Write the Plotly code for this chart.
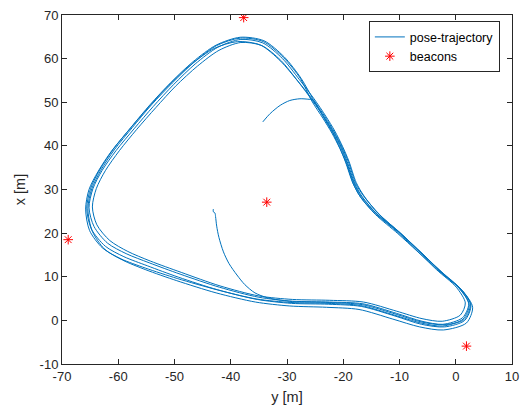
import plotly.graph_objects as go

# Horizontal axis carries the robot's y position, vertical axis its x position.

# Initial approach arc before the first lap
start_y = [-34.3, -33.0, -31.2, -29.5, -27.7, -26.3]
start_x = [45.5, 47.4, 49.3, 50.4, 50.8, 50.7]

# Complete laps (clockwise in the y-x plane)
lap1_y = [-25.4, -23.5, -21.9, -20.6, -19.6, -18.3, -17.0, -14.5, -10.6, -7.2, -3.4, 0.1, 1.7, 0.8, -2.4, -6.0, -10.5, -16.4, -22.4, -29.0,
          -35.0, -41.9, -48.8, -54.3, -58.3, -61.5, -63.8, -64.6,
          -63.9, -62.3, -59.8, -56.7, -53.3, -49.8, -45.9, -42.1, -38.2, -34.5, -31.1, -28.1]
lap1_x = [50.5, 46.5, 43.0, 39.5, 36.3, 31.5, 28.4, 24.7, 20.5, 16.4, 11.6, 7.6, 4.0, 1.2, -0.2, 0.4, 2.1, 4.2, 4.6, 4.8,
          5.6, 7.9, 11.0, 13.6, 15.8, 18.3, 21.9, 26.0,
          30.2, 34.3, 38.9, 43.8, 48.8, 53.7, 58.3, 61.9, 63.7, 63.0, 59.6, 54.9]

lap2_y = [-25.4, -23.4, -21.8, -20.4, -19.4, -18.1, -16.8, -14.2, -10.2, -6.8, -2.9, 0.6, 2.3, 1.2, -2.3, -6.0, -10.5, -16.5, -22.4, -29.0,
          -35.0, -42.0, -49.0, -54.5, -58.6, -61.9, -64.3, -65.2,
          -64.5, -62.9, -60.4, -57.2, -53.8, -50.2, -46.3, -42.3, -38.2, -34.3, -30.8, -27.8]
lap2_x = [50.5, 46.5, 43.0, 39.5, 36.3, 31.5, 28.4, 24.6, 20.3, 16.2, 11.4, 7.4, 3.8, 0.6, -0.9, -0.2, 1.6, 3.8, 4.2, 4.4,
          5.3, 7.6, 10.6, 13.2, 15.3, 17.7, 21.5, 25.8,
          30.2, 34.3, 38.9, 43.9, 49.0, 54.0, 58.8, 62.6, 64.4, 63.6, 60.0, 55.2]

lap3_y = [-25.2, -23.1, -21.5, -20.1, -19.0, -17.7, -16.3, -13.8, -9.8, -6.4, -2.4, 1.0, 2.7, 1.6, -2.0, -6.1, -10.8, -16.8, -22.6, -29.2,
          -35.3, -42.3, -49.3, -54.8, -59.0, -62.3, -64.8, -65.6,
          -64.9, -63.3, -60.9, -57.7, -54.3, -50.6, -46.7, -42.6, -38.3, -34.1, -30.5, -27.5]
lap3_x = [50.8, 46.8, 43.4, 39.8, 36.5, 31.6, 28.5, 24.5, 20.0, 15.8, 10.9, 7.0, 3.5, 0.0, -1.5, -0.9, 1.0, 3.2, 3.7, 3.9,
          4.8, 7.0, 9.9, 12.5, 14.6, 17.0, 21.0, 25.7,
          30.3, 34.5, 39.2, 44.3, 49.5, 54.6, 59.3, 63.1, 64.9, 64.1, 60.4, 55.5]

lap4_y = [-25.3, -23.2, -21.6, -20.2, -19.1, -17.8, -16.2, -13.5, -9.5, -6.0, -2.0, 1.4, 3.0, 1.9, -2.2, -6.4, -11.2, -17.2, -23.0, -29.5,
          -35.6, -42.6, -49.6, -55.1, -59.2, -62.4, -64.6, -65.4,
          -64.7, -63.1, -60.7, -57.5, -54.1, -50.4, -46.5, -42.5, -38.3, -34.2, -30.6, -27.6]
lap4_x = [50.6, 46.6, 43.2, 39.7, 36.4, 31.4, 28.2, 24.2, 19.6, 15.4, 10.4, 6.5, 3.0, -0.6, -2.2, -1.5, 0.3, 2.5, 3.0, 3.3,
          4.2, 6.3, 9.1, 11.6, 13.8, 16.3, 20.4, 25.6,
          30.2, 34.4, 39.1, 44.2, 49.4, 54.4, 59.2, 63.0, 64.7, 63.9, 60.2, 55.4]

lap5_y = [-25.6, -23.6, -22.0, -20.6, -19.5, -18.2, -16.9, -14.3, -10.3, -6.9, -2.8, 0.7, 2.4, 1.3, -2.3, -6.2, -10.9, -16.9, -22.7, -29.3,
          -35.4, -42.4, -49.5, -55.2, -59.5, -62.8, -65.1, -65.8,
          -65.2, -63.6, -61.2, -58.0, -54.6, -51.0, -47.1, -43.0, -38.8, -34.7, -31.2, -28.0]
lap5_x = [50.3, 46.3, 42.9, 39.4, 36.2, 31.3, 28.2, 24.3, 19.9, 15.9, 11.1, 7.2, 3.6, 0.3, -1.3, -0.6, 1.2, 3.4, 3.9, 4.1,
          4.9, 7.0, 9.6, 12.0, 14.1, 16.6, 20.6, 25.5,
          30.0, 34.1, 38.8, 43.8, 48.9, 53.9, 58.6, 62.3, 63.9, 63.1, 59.5, 54.7]

# Last partial lap down the right side and along the bottom
lap6_y = [-25.5, -23.3, -21.7, -20.3, -19.3, -18.0, -16.6, -14.0, -10.0, -6.6, -2.6, 0.9, 2.6, 1.5, -2.1, -6.0, -10.6, -16.6, -22.5, -29.0]
lap6_x = [50.4, 46.4, 43.1, 39.6, 36.4, 31.5, 28.3, 24.4, 20.1, 16.0, 11.2, 7.2, 3.7, 0.2, -1.0, -0.4, 1.4, 3.6, 4.1, 4.3]

# Exit branch to the final pose
end_y = [-31.0, -33.5, -35.7, -37.5, -38.9, -40.3, -41.3, -42.1, -42.5, -42.7, -42.8, -43.1, -43.1]
end_x = [4.6, 5.2, 6.3, 8.2, 10.4, 13.0, 15.7, 19.0, 21.6, 23.8, 24.6, 24.9, 25.5]

# Beacon positions
beacon_y = [-37.7, -33.6, -68.9, 1.9]
beacon_x = [69.4, 27.1, 18.5, -5.9]

# Tick labels
tick_y_vals = [-70, -60, -50, -40, -30, -20, -10, 0, 10]
tick_y_text = ["-70", "-60", "-50", "-40", "-30", "-20", "-10", "0", "10"]
tick_x_vals = [-10, 0, 10, 20, 30, 40, 50, 60, 70]
tick_x_text = ["-10", "0", "10", "20", "30", "40", "50", "60", "70"]

traj_y = start_y + lap1_y + lap2_y + lap3_y + lap4_y + lap5_y + lap6_y + end_y
traj_x = start_x + lap1_x + lap2_x + lap3_x + lap4_x + lap5_x + lap6_x + end_x

AX = "#262626"
FONT = "Liberation Sans, Arial, Helvetica, sans-serif"

fig = go.Figure()
fig.add_trace(go.Scatter(
    x=traj_y, y=traj_x, mode="lines", name="pose-trajectory",
    line=dict(color="#0072BD", width=1, shape="spline", smoothing=0.8),
))
fig.add_trace(go.Scatter(
    x=beacon_y, y=beacon_x, mode="markers", name="beacons",
    marker=dict(symbol="asterisk", size=8, color="red", line=dict(color="red", width=1)),
))

axis_common = dict(
    showgrid=False, zeroline=False, showline=True, linecolor=AX, linewidth=1,
    mirror="allticks", ticks="inside", ticklen=5, tickcolor=AX, tickwidth=1,
    tickfont=dict(family=FONT, size=13, color=AX),
)
fig.update_layout(
    width=530, height=414,
    margin=dict(l=62, r=18, t=8, b=50),
    paper_bgcolor="white", plot_bgcolor="white",
    font=dict(family=FONT, color=AX),
    xaxis=dict(range=[-70, 10], tickvals=tick_y_vals, ticktext=tick_y_text,
               title=dict(text="y [m]", font=dict(family=FONT, size=14.5, color=AX), standoff=9),
               **axis_common),
    yaxis=dict(range=[-10, 70], tickvals=tick_x_vals, ticktext=tick_x_text,
               title=dict(text="x [m]", font=dict(family=FONT, size=14.5, color=AX), standoff=10),
               **axis_common),
    legend=dict(x=0.973, y=0.982, xanchor="right", yanchor="top",
                bgcolor="white", bordercolor=AX, borderwidth=1,
                font=dict(family=FONT, size=12.5, color="black"),
                tracegroupgap=0, itemwidth=30),
    showlegend=True,
)

fig.write_html("out.html")
